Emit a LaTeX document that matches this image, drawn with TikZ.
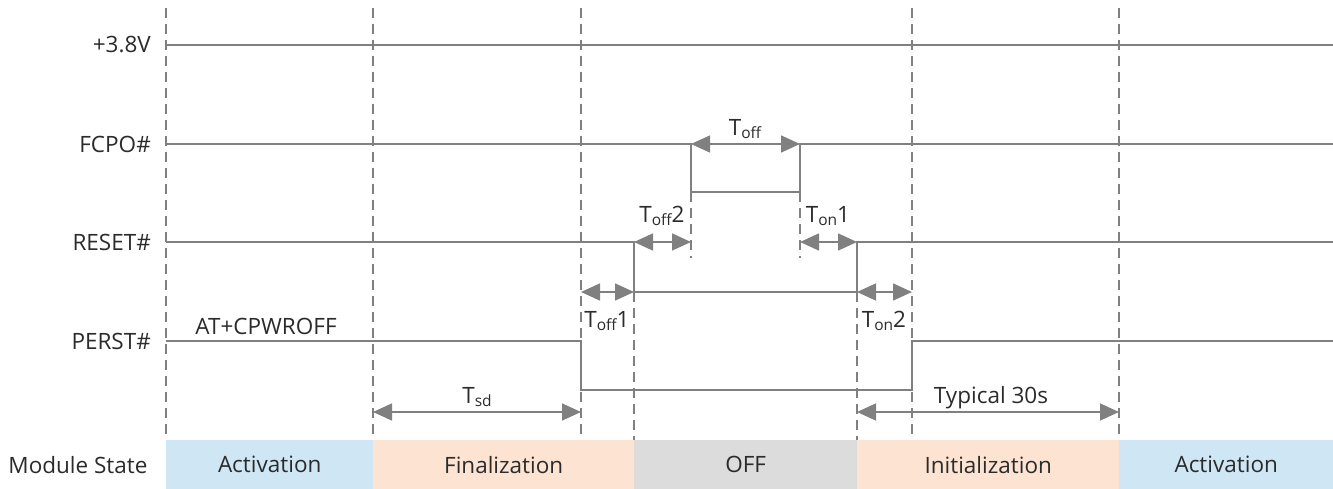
\documentclass[tikz,border=0pt]{standalone}
\usepackage{fontspec}
\setmainfont{Open Sans}
\usepackage{xcolor}
\usetikzlibrary{arrows.meta}

\definecolor{wave}{HTML}{808080}
\definecolor{ink}{HTML}{2B2B2B}
\definecolor{actblue}{HTML}{CFE6F4}
\definecolor{finpeach}{HTML}{FDE4D2}
\definecolor{offgray}{HTML}{DCDCDC}

\newcommand{\tsub}[2]{T\raisebox{-0.3ex}{\fontsize{15.5}{17}\selectfont #1}#2}

\begin{document}
\begin{tikzpicture}[
  x=1pt, y=-1pt,
  sig/.style={draw=wave, line width=1.6pt},
  grid/.style={draw=wave, line width=1.3pt, dash pattern=on 10pt off 6pt},
  dim/.style={{Triangle[length=19pt,width=17pt]}-{Triangle[length=19pt,width=17pt]},
              draw=wave, fill=wave, line width=1.6pt},
  lbl/.style={font=\fontsize{22.5}{26}\selectfont, text=ink, inner sep=0pt},
  band/.style={draw=none, minimum height=49pt, inner sep=0pt, anchor=north west,
               font=\fontsize{22.5}{26}\selectfont, text=ink}
]
\useasboundingbox (0,0) rectangle (1333,489);

%% Module state band
\node[band, fill=actblue,  minimum width=207pt] (act1) at (166,440) {Activation};
\node[band, fill=finpeach, minimum width=261pt] (fin)  at (373,440) {Finalization};
\node[band, fill=offgray,  minimum width=223pt] (off)  at (634,440) {OFF};
\node[band, fill=finpeach, minimum width=262pt] (init) at (857,440) {Initialization};
\node[band, fill=actblue,  minimum width=214pt] (act2) at (1119,440) {Activation};
\node[lbl] (state) at (78,465) {Module State};

%% Signal names
\node[lbl, anchor=east] (vbat)  at (151,45)  {+3.8V};
\node[lbl, anchor=east] (fcpo)  at (151,144) {FCPO\#};
\node[lbl, anchor=east] (reset) at (151,242) {RESET\#};
\node[lbl, anchor=east] (perst) at (151,341) {PERST\#};

%% Dashed time markers
\draw[grid] (166,8) -- (act1.north west);
\draw[grid] (373,8) -- (fin.north west);
\draw[grid] (581,8) -- (581,440);
\draw[grid] (912,8) -- (912,440);
\draw[grid] (1119,8) -- (act2.north west);
\draw[grid] (634,292) -- (off.north west);
\draw[grid] (857,292) -- (init.north west);
\draw[grid] (691,192) -- (691,258);
\draw[grid] (800,192) -- (800,258);

%% Waveforms
\draw[sig] (166,45) -- (1333,45);
\draw[sig] (166,144) -- (691,144) -- (691,192) -- (800,192) -- (800,144) -- (1333,144);
\draw[sig] (166,242) -- (634,242) -- (634,292) -- (857,292) -- (857,242) -- (1333,242);
\draw[sig] (166,341) -- (581,341) -- (581,390) -- (912,390) -- (912,341) -- (1333,341);

%% Edge coordinates
\coordinate (fcpoF) at (691,144);
\coordinate (fcpoR) at (800,144);
\coordinate (rstA)  at (634,242);
\coordinate (rstB)  at (691,242);
\coordinate (rstC)  at (800,242);
\coordinate (rstD)  at (857,242);
\coordinate (prA)   at (581,292);
\coordinate (prB)   at (634,292);
\coordinate (prC)   at (857,292);
\coordinate (prD)   at (912,292);
\coordinate (sdA)   at (373,412);
\coordinate (sdB)   at (581,412);
\coordinate (upA)   at (857,412);
\coordinate (upB)   at (1119,412);

%% Timing arrows
\draw[dim] (fcpoF) -- (fcpoR);
\draw[dim] (rstA) -- (rstB);
\draw[dim] (rstC) -- (rstD);
\draw[dim] (prA) -- (prB);
\draw[dim] (prC) -- (prD);
\draw[dim] (sdA) -- (sdB);
\draw[dim] (upA) -- (upB);

%% Timing labels
\node[lbl] (toff)  at (745,129) {\tsub{off}{}};
\node[lbl] (toff2) at (662,216) {\tsub{off}{2}};
\node[lbl] (ton1)  at (828,216) {\tsub{on}{1}};
\node[lbl] (toff1) at (607,321) {\tsub{off}{1}};
\node[lbl] (ton2)  at (884,321) {\tsub{on}{2}};
\node[lbl] (tsd)   at (477,397) {\tsub{sd}{}};
\node[lbl] (typ)   at (991,398) {Typical 30s};
\node[lbl] (cmd)   at (266,326) {AT+CPWROFF};

\end{tikzpicture}
\end{document}
